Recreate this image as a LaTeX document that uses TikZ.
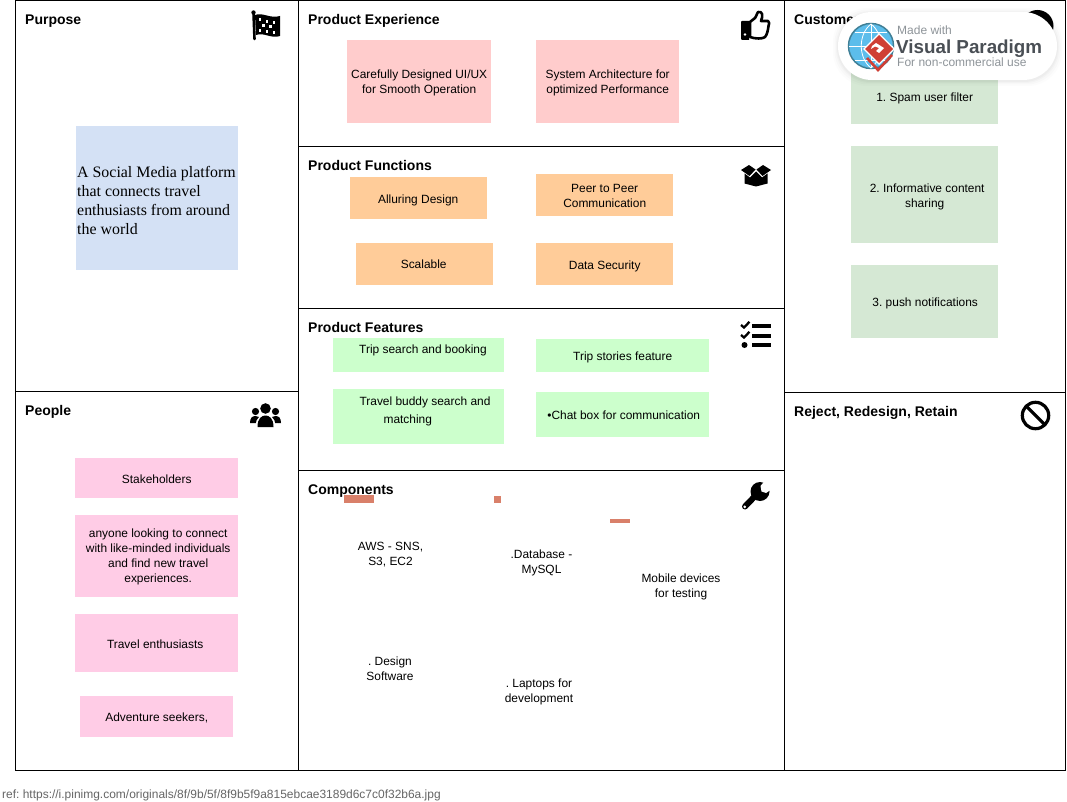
\documentclass[tikz,border=0pt]{standalone}
\usepackage{fontspec}
\setmainfont{Liberation Sans}
\newfontfamily\serifnote{Liberation Serif}
\frenchspacing
\definecolor{redsticky}{HTML}{FFCCCC}
\definecolor{bluesticky}{HTML}{D4E1F5}
\definecolor{orangesticky}{HTML}{FFCC99}
\definecolor{limesticky}{HTML}{CCFFCC}
\definecolor{greensticky}{HTML}{D5E8D4}
\definecolor{pinksticky}{HTML}{FFCCE6}
\definecolor{barcol}{HTML}{D9806A}
\definecolor{vpgray}{HTML}{4A4F55}
\definecolor{vpsoft}{HTML}{8E9499}
\definecolor{vpblue}{HTML}{5CBDEB}
\definecolor{vpring}{HTML}{3F7F96}
\definecolor{vpred}{HTML}{CF3F35}
\tikzset{
  x=1pt,y=-1pt,
  frameline/.style={draw=black,line width=1pt},
  heading/.style={anchor=base west,inner sep=0pt,font=\fontsize{14}{14}\selectfont\bfseries},
  stickybox/.style={anchor=north west,inner sep=0pt},
  plain/.style={inner sep=0pt,align=center,font=\fontsize{11.93}{14.9}\selectfont},
  bar/.style={fill=barcol,draw=none},
}
% name, x, y, w, h, colour, label shift (x,y), text
\newcommand{\stickynote}[8]{%
  \node[stickybox,fill=#6,minimum width=#4pt,minimum height=#5pt] (#1) at (#2,#3) {};
  \node[plain] (#1text) at ([shift={(#7)}]#1.center) {#8};}
\begin{document}
\begin{tikzpicture}
\useasboundingbox (0,0) rectangle (1067,802);
\fill[white] (0,0) rectangle (1067,802);

% Stickies
\stickynote{ux}{347}{40}{144}{83}{redsticky}{0,1.5}{Carefully Designed UI/UX\\for Smooth Operation}
\stickynote{arch}{536}{40}{143}{83}{redsticky}{0,1.5}{System Architecture for\\optimized Performance}
\stickynote{alluring}{350}{177}{137}{42}{orangesticky}{-0.5,2}{Alluring Design}
\stickynote{peer}{536}{174}{137}{42}{orangesticky}{0,1}{Peer to Peer\\Communication}
\stickynote{scalable}{356}{243}{137}{42}{orangesticky}{-1,0}{Scalable}
\stickynote{security}{536}{243}{137}{42}{orangesticky}{0,2}{Data Security}
\node[stickybox,fill=limesticky,minimum width=171pt,minimum height=34pt] (tripbox) at (333,338) {};
\node[plain] (trip) at (423,350) {Trip search and booking};
\stickynote{stories}{536}{339}{173}{33}{limesticky}{0,1.5}{Trip stories feature}
\node[stickybox,fill=limesticky,minimum width=171pt,minimum height=55pt] (buddybox) at (333,389) {};
\node[plain,font=\fontsize{11.93}{18}\selectfont,align=left] (buddy) at (425,411) {Travel buddy search and\\\hspace*{24pt}matching};
\stickynote{chat}{536}{392}{173}{45}{limesticky}{1,1}{•Chat box for communication}
\stickynote{spam}{851}{70}{147}{54}{greensticky}{0,1}{1. Spam user filter}
\stickynote{content}{851}{146}{147}{97}{greensticky}{2.5,2}{2. Informative content\\\hspace*{-5pt}sharing}
\stickynote{push}{851}{265}{147}{73}{greensticky}{0.5,2}{3. push notifications}
\node[stickybox,fill=bluesticky,minimum width=162pt,minimum height=144pt] (purposebox) at (75.5,125.5) {};
\node[anchor=west,inner sep=0pt,align=left,font=\fontsize{15.9}{19.3}\selectfont\serifnote] (purposetext) at (77,200.5) {A Social Media platform\\that connects travel\\enthusiasts from around\\the world};
\stickynote{stake}{75}{458}{163}{40}{pinksticky}{0,1}{Stakeholders}
\stickynote{anyone}{75}{515}{163}{82}{pinksticky}{1.5,0.5}{anyone looking to connect\\with like-minded individuals\\and find new travel\\experiences.}
\stickynote{enthus}{75}{614}{163}{58}{pinksticky}{-1.5,1}{Travel enthusiasts}
\stickynote{adventure}{80}{696}{153}{41}{pinksticky}{0,1}{Adventure seekers,}

% Component bars and labels
\fill[bar] (344,495) rectangle (373.5,503);
\fill[bar] (494,496) rectangle (501,503);
\fill[bar] (610,519) rectangle (630,522.5);
\node[plain] (aws) at (390.5,555) {AWS - SNS,\\S3, EC2};
\node[plain] (db) at (541.5,562.5) {.Database -\\MySQL};
\node[plain] (mobile) at (681,586.5) {Mobile devices\\for testing};
\node[plain] (design) at (390,668.5) {. Design\\Software};
\node[plain] (laptops) at (539,691.5) {. Laptops for\\development};

% Frame
\draw[frameline] (15.5,0.5) rectangle (1065.5,770.5);
\draw[frameline] (298.5,0.5) -- (298.5,770.5);
\draw[frameline] (784.5,0.5) -- (784.5,770.5);
\draw[frameline] (15.5,391.5) -- (298.5,391.5);
\draw[frameline] (298.5,146.5) -- (784.5,146.5);
\draw[frameline] (298.5,308.5) -- (784.5,308.5);
\draw[frameline] (298.5,470.5) -- (784.5,470.5);
\draw[frameline] (784.5,392.5) -- (1065.5,392.5);

% Headings
\node[heading] (hpurpose) at (25,24.5) {Purpose};
\node[heading] (hpeople) at (25,415) {People};
\node[heading] (hexp) at (308,24.5) {Product Experience};
\node[heading] (hfunc) at (308,170.5) {Product Functions};
\node[heading] (hfeat) at (308,332) {Product Features};
\node[heading] (hcomp) at (308,494) {Components};
\node[heading] (hcust) at (794,24.5) {Customer};
\node[heading] (hrej) at (794,416) {Reject, Redesign, Retain};

% Icons: flag
\draw[black,line width=2.6pt,line cap=round] (253.5,13) -- (254.5,39);
\fill[black] (253.5,12.5) circle (2.2);
\fill[black] (255,15) .. controls (263,12) and (270,19) .. (280,16) -- (280,36)
  .. controls (271,39) and (264,32) .. (256,35) -- cycle;
\foreach \cx/\cy in {258.5/18.5,265.5/20,272.5/21.5,262/24,269/25.5,258.5/29,265.5/30,272.5/31}
  \fill[white] (\cx,\cy) rectangle ++(2.8,2.8);

% Icon: thumb up
\fill[black] (742,21) -- (749,21) -- (749,40) -- (742,40) .. controls (741,40) and (741,39.5) .. (741,39) -- (741,23) .. controls (741,22) and (741,21) .. (742,21) -- cycle;
\fill[white] (745,34.5) circle (1.4);
\draw[black,line width=2.6pt,line join=round,fill=white] (750,22) -- (755,18) .. controls (757,15) and (757,13) .. (758,12) .. controls (763,11) and (763,16) .. (761,21) -- (768,21) .. controls (770,22) and (769,24) .. (768.5,26) .. controls (768,30) and (767,35) .. (765,37) .. controls (763,39) and (755,39) .. (750,37) -- cycle;

% Icon: box
\fill[black] (741,170) -- (749,165) -- (755.5,169.5) -- (749.5,176) -- cycle;
\fill[black] (771,170) -- (763,165) -- (756.5,169.5) -- (762.5,176) -- cycle;
\fill[black] (744.5,173.5) -- (750,177.5) -- (756,171.5) -- (762,177.5) -- (767.5,173.5) -- (767.5,183.5) -- (756,186.5) -- (744.5,183.5) -- cycle;

% Icon: checklist
\foreach \yy in {325,335} {
  \draw[black,line width=2.3pt] (741,\yy) -- (744,\yy+2.5) -- (749.5,\yy-3.2);
}
\fill[black] (744.5,345) circle (3);
\foreach \yy in {326,335.8,345.2}
  \fill[black] (752,\yy-2.2) rectangle (770.5,\yy+2.2);

% Icon: wrench
\draw[black,line width=6pt,line cap=round] (745,506.5) -- (758,493);
\fill[black] (760,491.5) circle (9.5);
\fill[white] (767,478) -- (760.5,486) -- (761.5,491.5) -- (766,493) -- (775,487) -- (775,478) -- cycle;
\fill[white] (744.7,506.8) circle (1.5);

% Icon: people
\fill[black] (265.5,408.5) circle (5.3);
\fill[black] (255.5,411.5) circle (3.6);
\fill[black] (275.5,411.5) circle (3.6);
\fill[black] (257.5,427) .. controls (257.5,418) and (262,415.5) .. (265.5,415.5) .. controls (269,415.5) and (273.5,418) .. (273.5,427) -- cycle;
\fill[black] (250,423) .. controls (250,418) and (252,416) .. (255.5,416) .. controls (257,416) and (258,416.5) .. (259,417) .. controls (257,419) and (256,421) .. (255.8,423) -- cycle;
\fill[black] (281,423) .. controls (281,418) and (279,416) .. (275.5,416) .. controls (274,416) and (273,416.5) .. (272,417) .. controls (274,419) and (275,421) .. (275.2,423) -- cycle;

% Icon: no entry
\draw[black,line width=3.2pt] (1035.5,415.5) circle (13.2);
\draw[black,line width=3.2pt] (1026.2,406.2) -- (1044.8,424.8);

% Icon under the watermark
\fill[black] (1037.5,26) circle (16);

% Watermark
\foreach \gr/\op in {5/0.012,3.5/0.015,2/0.02,1/0.025}
  \fill[black,opacity=\op,rounded corners=34pt] (838-\gr,12-\gr+1) rectangle (1057+\gr,80+\gr+1);
\fill[white,rounded corners=34pt] (838,12) rectangle (1057,80);
\fill[vpblue] (871,46) circle (22);
\draw[vpring,line width=1.5pt] (871,46) circle (22.5);
\draw[white,line width=0.8pt] (849,46) -- (893,46) (855,32) -- (887,32) (855,60) -- (887,60) (871,24) -- (871,68);
\draw[white,line width=0.8pt] (871,24) .. controls (858,34) and (858,58) .. (871,68) (871,24) .. controls (884,34) and (884,58) .. (871,68);
\draw[vpred,line width=2.6pt] (867,58) -- (878,70) -- (892,55);
\fill[white] (879,33) -- (895,49) -- (879,65) -- (863,49) -- cycle;
\fill[vpred] (879,35) -- (893,49) -- (879,63) -- (865,49) -- cycle;
\fill[white] (876,43) -- (884,48) -- (879,53) -- (876,51) -- (879,48) -- (875,46.5) -- (871,49) -- (872,46) -- cycle;
\node[anchor=base west,inner sep=0pt,text=vpsoft,font=\fontsize{12}{12}\selectfont] (madewith) at (897,35) {Made with};
\node[anchor=base west,inner sep=0pt,text=vpgray,font=\fontsize{18.8}{21}\selectfont\bfseries] (vpname) at (896,53.5) {Visual Paradigm};
\node[anchor=base west,inner sep=0pt,text=vpsoft,font=\fontsize{12}{12}\selectfont] (vpuse) at (897,67) {For non-commercial use};

% Reference line
\node[anchor=base west,inner sep=0pt,text=black!60,font=\fontsize{11.97}{12}\selectfont] (reflink) at (2,798) {ref: https://i.pinimg.com/originals/8f/9b/5f/8f9b5f9a815ebcae3189d6c7c0f32b6a.jpg};
\end{tikzpicture}
\end{document}
